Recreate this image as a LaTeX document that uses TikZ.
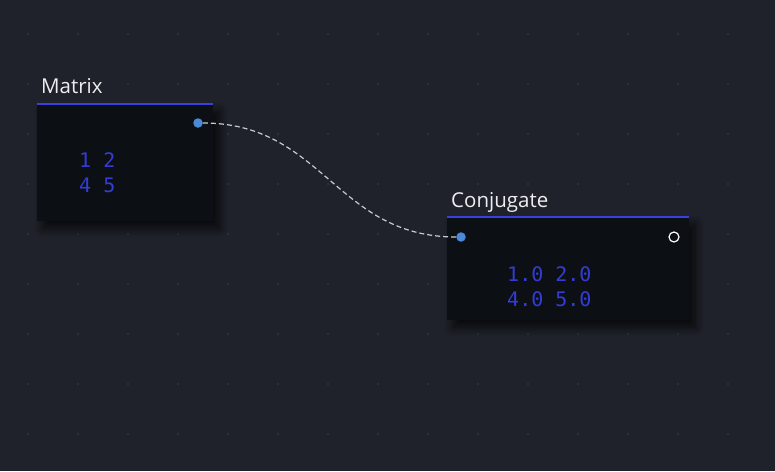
\documentclass[tikz,border=0pt]{standalone}
\usepackage{fontspec}
\setmainfont{Open Sans}
\newfontfamily\codefont{DejaVu Sans Mono}
\usetikzlibrary{shadows.blur}
\definecolor{canvasbg}{RGB}{31,34,42}
\definecolor{griddot}{RGB}{48,52,61}
\definecolor{boxbg}{RGB}{12,16,20}
\definecolor{headblue}{RGB}{58,64,222}
\definecolor{valblue}{RGB}{52,60,214}
\definecolor{portblue}{RGB}{74,138,216}
\definecolor{titlewhite}{RGB}{236,238,240}
\definecolor{wiregrey}{RGB}{200,202,206}

\tikzset{
	opbox/.style={fill=boxbg, anchor=north west, inner sep=0,
		blur shadow={shadow xshift=6pt, shadow yshift=-7pt, shadow blur radius=9pt,
			shadow blur steps=14, shadow opacity=75}},
	optitle/.style={anchor=base west, inner sep=0, text=titlewhite, font=\fontsize{20.5}{24}\selectfont},
	values/.style={anchor=north west, inner sep=0, text=valblue, align=left,
		font=\codefont\fontsize{20}{25}\selectfont},
	inport/.style={circle, fill=portblue, inner sep=0, minimum size=9.5},
	outport/.style={circle, draw=white, line width=1.2, inner sep=0, minimum size=10},
	wire/.style={draw=wiregrey, dashed, line width=1.2, dash pattern=on 5pt off 3pt}
}

\begin{document}
\begin{tikzpicture}[x=1pt, y=-1pt]
\useasboundingbox (0,0) rectangle (775,471);
\fill[canvasbg] (0,0) rectangle (775,471);

% dot grid
\foreach \x in {28, 78, ..., 778}{
	\foreach \y in {34, 84, ..., 434}{
		\fill[griddot] (\x, \y) circle (1.1);
	}
}

% Matrix
\node[opbox, minimum width=176, minimum height=117] (matrix) at (37, 104) {};
\draw[headblue, line width=2.2] (matrix.north west) -- (matrix.north east);
\node[optitle] (matrixtitle) at (41, 93) {Matrix};
\node[values] (matrixvals) at (79, 152) {1 2\\4 5};
\node[inport] (matrixout) at (198, 123) {};

% Conjugate
\node[opbox, minimum width=242, minimum height=103] (conj) at (447, 217) {};
\draw[headblue, line width=2.2] (conj.north west) -- (conj.north east);
\node[optitle] (conjtitle) at (451, 207) {Conjugate};
\node[values] (conjvals) at (507, 266) {1.0 2.0\\4.0 5.0};
\node[inport] (conjin) at (461, 237) {};
\node[outport] (conjout) at (674, 237) {};

% link
\draw[wire] (matrixout) .. controls +(125, 0) and +(-125, 0) .. (conjin);
\end{tikzpicture}
\end{document}
